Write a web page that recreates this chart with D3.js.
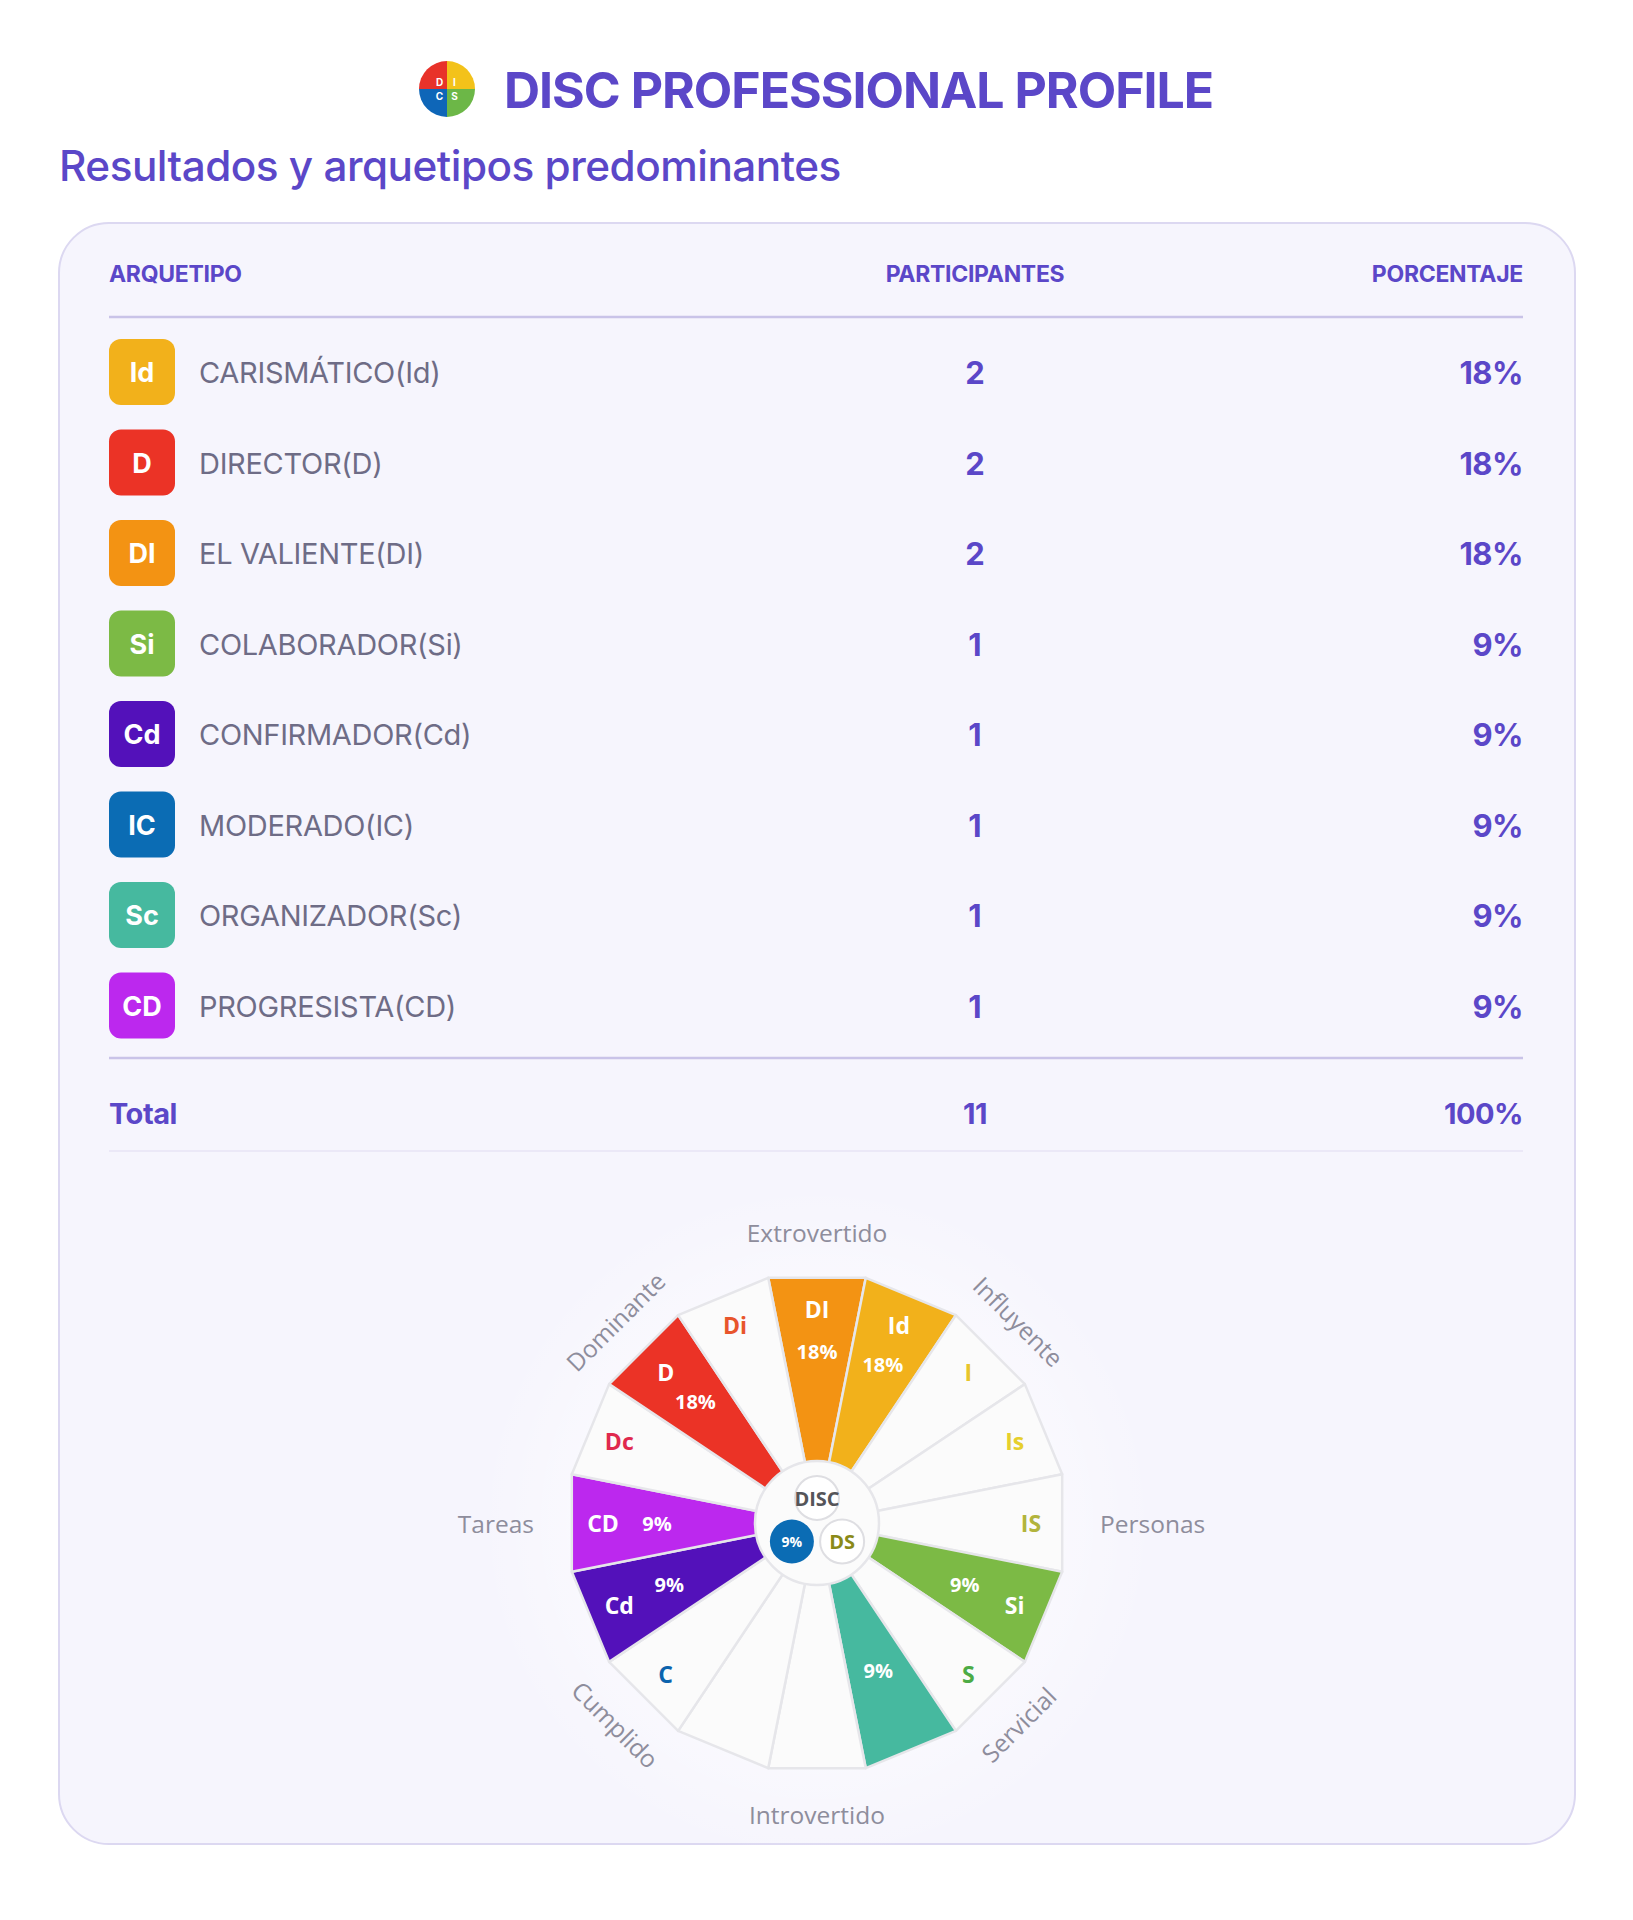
<!DOCTYPE html>
<html>
<head>
<meta charset="utf-8">
<script src="https://cdn.jsdelivr.net/npm/d3@7"></script>
<style>
  body { margin: 0; background: #ffffff; }
</style>
</head>
<body>
<script>
// ---- data ----
const titleText = "DISC PROFESSIONAL PROFILE";
const subtitleText = "Resultados y arquetipos predominantes";
const columns = ["ARQUETIPO", "PARTICIPANTES", "PORCENTAJE"];
const archetypes = ["CARISMÁTICO", "DIRECTOR", "EL VALIENTE", "COLABORADOR", "CONFIRMADOR", "MODERADO", "ORGANIZADOR", "PROGRESISTA"];
const codes = ["Id", "D", "DI", "Si", "Cd", "IC", "Sc", "CD"];
const participants = [2, 2, 2, 1, 1, 1, 1, 1];
const percents = [18, 18, 18, 9, 9, 9, 9, 9];
const totalLabel = "Total";
const totalParticipants = 11;
const totalPercent = 100;

// wheel, clockwise from the top
const wheelCodes = ["DI", "Id", "I", "Is", "IS", "Si", "S", "Sc", "", "", "C", "Cd", "CD", "Dc", "D", "Di"];
const centerCodes = ["DISC", "DS", "IC"];
const axisLabels = ["Extrovertido", "Influyente", "Personas", "Servicial", "Introvertido", "Cumplido", "Tareas", "Dominante"];
// logo quadrants, clockwise from the top
const logoLetters = ["I", "S", "C", "D"];
const logoColors = ["#f3c21a", "#6cb747", "#0e66b8", "#e8322a"];

const fillColors = {
  Id: "#f2b11b", D: "#eb3326", DI: "#f39313", Si: "#7cba45",
  Cd: "#5311ba", IC: "#0b6cb4", Sc: "#46b99f", CD: "#bc28ee"
};
const textColors = {
  Di: "#e8552c", I: "#e8c52a", Is: "#e6cf2c", IS: "#b2b43c",
  S: "#4cab45", C: "#0b63ad", Dc: "#e0294e", DISC: "#555559", DS: "#8a8a18"
};

// ---- layout ----
const W = 1633, H = 1920;
const purple = "#5b47c8";
const sans = "Inter, 'Noto Sans', sans-serif";
const wheelFont = "'Open Sans', 'Noto Sans', sans-serif";

const svg = d3.select("body").append("svg")
  .attr("width", W).attr("height", H)
  .attr("viewBox", [0, 0, W, H]);

const defs = svg.append("defs");
const glow = defs.append("radialGradient").attr("id", "glow");
glow.append("stop").attr("offset", "0%").attr("stop-color", "#ffffff").attr("stop-opacity", 0.9);
glow.append("stop").attr("offset", "70%").attr("stop-color", "#ffffff").attr("stop-opacity", 0.4);
glow.append("stop").attr("offset", "100%").attr("stop-color", "#ffffff").attr("stop-opacity", 0);

// header: logo + title
const logo = svg.append("g").attr("transform", "translate(447,89)");
const logoPie = d3.pie().value(1).sort(null)(logoLetters);
logo.selectAll("path").data(logoPie).join("path")
  .attr("d", d3.arc().innerRadius(0).outerRadius(28))
  .attr("fill", (d, i) => logoColors[i]);
logo.selectAll("text").data(logoPie).join("text")
  .attr("transform", d => `translate(${d3.arc().innerRadius(0).outerRadius(21).centroid(d)})`)
  .attr("text-anchor", "middle").attr("dominant-baseline", "central")
  .attr("font-family", sans).attr("font-weight", 700).attr("font-size", 10)
  .attr("fill", "#ffffff")
  .text(d => d.data);

function fitText(sel, target) {
  const fs = +sel.attr("font-size");
  const len = sel.node().getComputedTextLength();
  sel.attr("font-size", fs * target / len);
}

const title = svg.append("text")
  .attr("x", 504).attr("y", 108)
  .attr("font-family", sans).attr("font-weight", 700).attr("font-size", 46)
  .attr("letter-spacing", -1)
  .attr("fill", purple)
  .text(titleText);
fitText(title, 707);

const subtitle = svg.append("text")
  .attr("x", 59).attr("y", 181)
  .attr("font-family", sans).attr("font-weight", 500).attr("font-size", 38)
  .attr("letter-spacing", -0.5)
  .attr("fill", purple)
  .text(subtitleText);
fitText(subtitle, 780);

// card
svg.append("rect")
  .attr("x", 59).attr("y", 223).attr("width", 1516).attr("height", 1621)
  .attr("rx", 50)
  .attr("fill", "#f6f5fd").attr("stroke", "#dcd8f1").attr("stroke-width", 2);

// table
const colX = d3.scalePoint().domain(columns).range([109, 1523]);
const colAnchor = ["start", "middle", "end"];
const colPos = [colX(columns[0]), 975, colX(columns[2])];

svg.append("g").selectAll("text").data(columns).join("text")
  .attr("x", (d, i) => colPos[i]).attr("y", 282)
  .attr("text-anchor", (d, i) => colAnchor[i])
  .attr("font-family", sans).attr("font-weight", 700).attr("font-size", 23)
  .attr("letter-spacing", -0.3)
  .attr("fill", purple)
  .text(d => d);

svg.append("line").attr("x1", 109).attr("x2", 1523).attr("y1", 317).attr("y2", 317)
  .attr("stroke", "#c9c3e8").attr("stroke-width", 2.5);

const rowY = d3.scalePoint().domain(d3.range(codes.length)).range([372, 1005.5]);
const rows = svg.append("g").selectAll("g").data(codes).join("g")
  .attr("transform", (d, i) => `translate(0,${rowY(i)})`);

rows.append("rect")
  .attr("x", 109).attr("y", -33).attr("width", 66).attr("height", 66).attr("rx", 12)
  .attr("fill", d => fillColors[d]);
rows.append("text")
  .attr("x", 142).attr("y", 10)
  .attr("text-anchor", "middle")
  .attr("font-family", sans).attr("font-weight", 700).attr("font-size", 27)
  .attr("fill", "#ffffff")
  .text(d => d);
rows.append("text")
  .attr("x", 199).attr("y", 11)
  .attr("font-family", sans).attr("font-weight", 400).attr("font-size", 29)
  .attr("letter-spacing", -0.3)
  .attr("fill", "#6e6c86")
  .text((d, i) => `${archetypes[i]}(${d})`);
rows.append("text")
  .attr("x", colPos[1]).attr("y", 12)
  .attr("text-anchor", "middle")
  .attr("font-family", sans).attr("font-weight", 700).attr("font-size", 31)
  .attr("fill", purple)
  .text((d, i) => participants[i]);
rows.append("text")
  .attr("x", colPos[2]).attr("y", 12)
  .attr("text-anchor", "end")
  .attr("font-family", sans).attr("font-weight", 700).attr("font-size", 31)
  .attr("letter-spacing", -0.5)
  .attr("fill", purple)
  .text((d, i) => percents[i] + "%");

svg.append("line").attr("x1", 109).attr("x2", 1523).attr("y1", 1058).attr("y2", 1058)
  .attr("stroke", "#c9c3e8").attr("stroke-width", 2.5);
svg.append("g").selectAll("text")
  .data([totalLabel, totalParticipants, totalPercent + "%"]).join("text")
  .attr("x", (d, i) => colPos[i]).attr("y", 1124)
  .attr("text-anchor", (d, i) => colAnchor[i])
  .attr("font-family", sans).attr("font-weight", 700).attr("font-size", 29)
  .attr("letter-spacing", -0.5)
  .attr("fill", purple)
  .text(d => d);
svg.append("line").attr("x1", 109).attr("x2", 1523).attr("y1", 1151).attr("y2", 1151)
  .attr("stroke", "#ebe8f7").attr("stroke-width", 2);

// ---- wheel ----
const cx = 817, cy = 1523;
const R = 250, hubR = 62;
const nSeg = wheelCodes.length;
const angle = d3.scaleLinear().domain([0, nSeg]).range([0, 2 * Math.PI]);
const half = Math.PI / nSeg;
const pctByCode = new Map(codes.map((c, i) => [c, percents[i]]));

const wheel = svg.append("g").attr("transform", `translate(${cx},${cy})`);
wheel.append("circle").attr("r", 340).attr("fill", "url(#glow)");

const segs = wheelCodes.map((code, i) => ({ code, i, filled: pctByCode.has(code) }));

wheel.append("g").selectAll("path").data(segs).join("path")
  .attr("d", d => {
    const a = angle(d.i);
    const p0 = d3.pointRadial(a - half, R), p1 = d3.pointRadial(a + half, R);
    const p = d3.path();
    p.moveTo(0, 0); p.lineTo(p0[0], p0[1]); p.lineTo(p1[0], p1[1]); p.closePath();
    return p.toString();
  })
  .attr("fill", d => d.filled ? fillColors[d.code] : "#fbfbfb")
  .attr("stroke", "#e6e6ea").attr("stroke-width", 2.5)
  .attr("stroke-linejoin", "round");

// hub
wheel.append("circle").attr("r", hubR)
  .attr("fill", "#fbfbfb").attr("stroke", "#e6e6ea").attr("stroke-width", 2.5);

// segment labels
const lbl = wheel.append("g").attr("font-family", wheelFont).attr("font-weight", 700)
  .attr("text-anchor", "middle").attr("dominant-baseline", "central");
lbl.selectAll("text.code").data(segs.filter(d => d.code)).join("text")
  .attr("class", "code")
  .attr("transform", d => `translate(${d3.pointRadial(angle(d.i), 214)})`)
  .attr("font-size", 23)
  .attr("fill", d => d.filled ? "#ffffff" : textColors[d.code])
  .text(d => d.code === "Sc" ? "" : d.code);
lbl.selectAll("text.pct").data(segs.filter(d => d.filled)).join("text")
  .attr("class", "pct")
  .attr("transform", d => `translate(${d3.pointRadial(angle(d.i), pctByCode.get(d.code) > 10 ? 172 : 160)})`)
  .attr("font-size", 20)
  .attr("fill", "#ffffff")
  .text(d => pctByCode.get(d.code) + "%");

// center circles
const centers = wheel.append("g").attr("transform", "translate(0,4)")
  .selectAll("g").data(centerCodes).join("g")
  .attr("transform", (d, i) => `translate(${d3.pointRadial(i * 2 * Math.PI / 3, 29)})`);
centers.append("circle").attr("r", 22)
  .attr("fill", d => pctByCode.has(d) ? fillColors[d] : "#ffffff")
  .attr("stroke", d => pctByCode.has(d) ? "none" : "#dedee2").attr("stroke-width", 2);
centers.append("text")
  .attr("text-anchor", "middle").attr("dominant-baseline", "central")
  .attr("font-family", wheelFont).attr("font-weight", 700)
  .attr("font-size", d => pctByCode.has(d) ? 14 : 20)
  .attr("fill", d => pctByCode.has(d) ? "#ffffff" : textColors[d])
  .text(d => pctByCode.has(d) ? pctByCode.get(d) + "%" : d);

// axis labels around the wheel
const axisAngle = d3.scaleLinear().domain([0, axisLabels.length]).range([0, 360]);
wheel.append("g").selectAll("text").data(axisLabels).join("text")
  .attr("transform", (d, i) => {
    const deg = axisAngle(i);
    const side = deg === 90 || deg === 270;
    const diag = deg % 90 !== 0;
    const [x, y] = d3.pointRadial(deg * Math.PI / 180, side ? 283 : diag ? 285 : 291);
    const rot = side ? 0 : ((deg + 90) % 180) - 90;
    return `translate(${x},${y}) rotate(${rot})`;
  })
  .attr("text-anchor", (d, i) => axisAngle(i) === 90 ? "start" : axisAngle(i) === 270 ? "end" : "middle")
  .attr("dominant-baseline", "central")
  .attr("font-family", wheelFont).attr("font-size", 24.5)
  .attr("fill", "#8e8d9c")
  .text(d => d);
</script>
</body>
</html>
